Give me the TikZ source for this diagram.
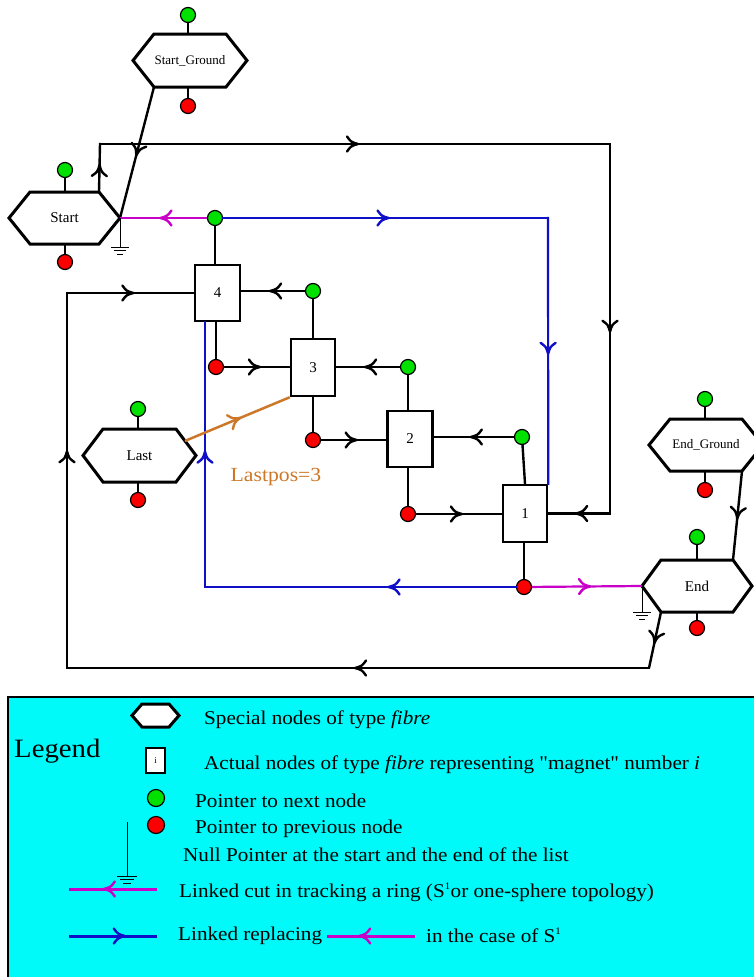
\documentclass[tikz,border=0pt]{standalone}
\usepackage{fontspec}
\setmainfont{Liberation Serif}
\newfontfamily\legfont[FakeStretch=1.085]{Liberation Serif}
\usetikzlibrary{arrows.meta,decorations.markings,calc}

\definecolor{dgreen}{RGB}{0,225,0}
\definecolor{dred}{RGB}{250,0,0}
\definecolor{lblue}{RGB}{15,15,200}
\definecolor{lmag}{RGB}{200,0,200}
\definecolor{lorange}{RGB}{205,120,40}
\definecolor{lcyan}{RGB}{0,250,250}

\tikzset{
  blk/.style={draw=black, line width=2.4pt, line cap=rect},
  blu/.style={draw=lblue, line width=2.2pt, line cap=rect},
  mag/.style={draw=lmag, line width=2.2pt},
  org/.style={draw=lorange, line width=2.5pt},
  thinln/.style={draw=black, line width=1pt},
  hexline/.style={draw=black, line width=3pt, fill=white, line join=miter},
  hexlabel/.style={inner sep=0pt, font=\fontsize{15}{15}\selectfont},
  boxnode/.style={draw=black, line width=2.5pt, fill=white, minimum width=45pt, minimum height=56pt, inner sep=0pt, font=\fontsize{15}{15}\selectfont},
  gdot/.style={circle, draw=black, line width=1.2pt, fill=dgreen, minimum size=15pt, inner sep=0pt},
  rdot/.style={circle, draw=black, line width=1.2pt, fill=dred, minimum size=15pt, inner sep=0pt},
  vtip/.style={line width=2.4pt, line cap=round, line join=round, fill=none},
  midarr/.style={postaction={decorate, decoration={markings, mark=at position #1 with {%
      \draw[vtip] (-8pt,-7.5pt) .. controls (-4pt,-2pt) .. (3pt,0pt) .. controls (-4pt,2pt) .. (-8pt,7.5pt);}}}},
  midarr/.default=0.5,
  leg/.style={anchor=base west, inner sep=0pt, font=\legfont\fontsize{19.5}{19.5}\selectfont},
}

% name, cx, cy, half width, half height, inset, text
\newcommand\hexshape[7]{%
  \draw[hexline] ({#2-#4},#3) coordinate (#1-l) -- ({#2-#4+#6},{#3-#5}) coordinate (#1-tl)
    -- ({#2+#4-#6},{#3-#5}) coordinate (#1-tr) -- ({#2+#4},#3) coordinate (#1-r)
    -- ({#2+#4-#6},{#3+#5}) coordinate (#1-br) -- ({#2-#4+#6},{#3+#5}) coordinate (#1-bl) -- cycle;
  \node[hexlabel] (#1) at (#2,#3) {#7};
}

\begin{document}
\begin{tikzpicture}[x=1pt,y=-1pt]
\useasboundingbox (0,0) rectangle (754,977);
\fill[white] (0,0) rectangle (754,977);

% ---------- special hexagon nodes
\hexshape{SG}{190}{60.5}{57}{26.5}{21}{\fontsize{13}{13}\selectfont Start\_Ground}
\hexshape{S}{64.5}{218}{55.5}{26}{21}{Start}
\hexshape{L}{139.5}{455.5}{56.5}{26.5}{20}{Last}
\hexshape{EG}{706}{445}{57}{26}{21}{\fontsize{13}{13}\selectfont End\_Ground}
\hexshape{E}{697}{586}{55}{26}{19}{End}

% ---------- magnet boxes
\node[boxnode] (B4) at (217.5,293) {4};
\node[boxnode, minimum width=44pt, minimum height=57pt] (B3) at (313,367.5) {3};
\node[boxnode] (B2) at (410,439) {2};
\node[boxnode, minimum width=44pt, minimum height=57pt] (B1) at (525,513.5) {1};

% ---------- pointer dots
\node[gdot] (SGg) at (188,15) {};
\node[rdot] (SGr) at (188,106) {};
\node[gdot] (Sg) at (65,170) {};
\node[rdot] (Sr) at (65,262) {};
\node[gdot] (Lg) at (138,409) {};
\node[rdot] (Lr) at (138,500) {};
\node[gdot] (EGg) at (705,399) {};
\node[rdot] (EGr) at (705,490) {};
\node[gdot] (Eg) at (697,537) {};
\node[rdot] (Er) at (697,628) {};

\node[gdot] (G4) at (215,218) {};
\node[gdot] (G3) at (313,291) {};
\node[gdot] (G2) at (408,367) {};
\node[gdot] (G1) at (522,437) {};
\node[rdot] (R4) at (216,367) {};
\node[rdot] (R3) at (313,440) {};
\node[rdot] (R2) at (408,514) {};
\node[rdot] (R1) at (524,587) {};

% dot stems of special nodes
\draw[blk] (SGg) -- (SGg |- SG-tl);
\draw[blk] (SGr |- SG-bl) -- (SGr);
\draw[blk] (Sg) -- (Sg |- S-tl);
\draw[blk] (Sr |- S-bl) -- (Sr);
\draw[blk] (Lg) -- (Lg |- L-tl);
\draw[blk] (Lr |- L-bl) -- (Lr);
\draw[blk] (EGg) -- (EGg |- EG-tl);
\draw[blk] (EGr |- EG-bl) -- (EGr);
\draw[blk] (Eg) -- (Eg |- E-tl);
\draw[blk] (Er |- E-bl) -- (Er);

% dot stems of magnet boxes
\draw[blk] (G4) -- (G4 |- B4.north);
\draw[blk] (G3) -- (G3 |- B3.north);
\draw[blk] (G2) -- (G2 |- B2.north);
\draw[blk] (G1) -- (B1.north);
\draw[blk] (R4 |- B4.south) -- (R4);
\draw[blk] (R3 |- B3.south) -- (R3);
\draw[blk] (R2 |- B2.south) -- (R2);
\draw[blk] (R1 |- B1.south) -- (R1);

% next / previous links
\draw[blk, midarr] (G3) -- (B4.east |- G3);
\draw[blk, midarr] (R4) -- (B3.west |- R4);
\draw[blk, midarr] (G2) -- (B3.east |- G2);
\draw[blk, midarr] (R3) -- (B2.west |- R3);
\draw[blk, midarr] (G1) -- (B2.east |- G1);
\draw[blk, midarr] (R2) -- (B1.west |- R2);

% Start_Ground -> Start
\draw[blk, line cap=butt, midarr] (SG-bl) -- (S-r);

% outer loop from Start to box 1
\coordinate (c1) at (100,144);
\coordinate (c2) at (610,144);
\coordinate (c3) at (c2 |- B1);
\draw[blk, midarr] (S-tr) -- (c1);
\draw[blk, midarr] (c1) -- (c2);
\draw[blk, midarr] (c2) -- (c3);
\draw[blk, midarr] (c3) -- (B1.east);

% outer loop from End to box 4
\coordinate (d1) at (649,668);
\coordinate (d2) at (67,668);
\coordinate (d3) at (d2 |- B4);
\draw[blk, line cap=butt, midarr] (E-bl) -- (d1);
\draw[blk, midarr] (d1) -- (d2);
\draw[blk, midarr=0.57] (d2) -- (d3);
\draw[blk, midarr] (d3) -- (B4.west);

% End_Ground -> End
\draw[blk, line cap=butt, midarr] (EG-br) -- (E-tr);

% blue replacing links
\coordinate (b1) at (548,218);
\coordinate (b2) at (B1.north east);
\coordinate (b3) at (205,587);
\coordinate (b4) at (b3 |- B4.south);
\draw[blu, midarr] (G4) -- (b1);
\draw[blu, midarr] (b1) -- (b2);
\draw[blu, midarr=0.4] (R1) -- (b3);
\draw[blu, midarr] (b3) -- (b4);

% magenta cut links
\draw[mag, midarr] (G4) -- (S-r);
\draw[mag, midarr] (R1) -- (E-l);

% ground symbols
\draw[thinln] (S-r) -- ++(0,29) coordinate (gs);
\draw[thinln] ($(gs)+(-9,0)$) -- ($(gs)+(9,0)$);
\draw[thinln] ($(gs)+(-6,3.5)$) -- ($(gs)+(6,3.5)$);
\draw[thinln] ($(gs)+(-3,7)$) -- ($(gs)+(3,7)$);
\draw[thinln] (E-l) -- ++(0,26) coordinate (ge);
\draw[thinln] ($(ge)+(-9,0)$) -- ($(ge)+(9,0)$);
\draw[thinln] ($(ge)+(-6,3.5)$) -- ($(ge)+(6,3.5)$);
\draw[thinln] ($(ge)+(-3,7)$) -- ($(ge)+(3,7)$);

% Last pointer
\coordinate (lst) at ($(L-tr)!0.45!(L-r)$);
\draw[org, midarr] (lst) -- (B3.south west);
\node[text=lorange, font=\legfont\fontsize{20}{20}\selectfont, inner sep=0pt] (lpos) at (276,477) {Lastpos=3};

% ---------- legend
\draw[line width=2pt, fill=lcyan] (8,697) rectangle (790,1010);
\hexshape{LH}{155.5}{715.5}{23.5}{11.5}{10}{}
\node[boxnode, minimum width=19pt, minimum height=25pt, line width=2pt, font=\fontsize{9}{9}\selectfont] (Li) at (155.5,760.5) {i};
\node[gdot, minimum size=17pt] (LGg) at (156,798) {};
\node[rdot, minimum size=17pt] (LGr) at (156,825) {};
\node[anchor=base west, inner sep=0pt, font=\legfont\fontsize{26.5}{26.5}\selectfont] (legtitle) at (14,757) {Legend};
\node[leg] (t1) at (204,724) {Special nodes of type \textit{fibre}};
\node[leg] (t2) at (204,769) {Actual nodes of type \textit{fibre} representing "magnet" number \textit{i}};
\node[leg] (t3) at (195,807) {Pointer to next node};
\node[leg] (t4) at (195,833) {Pointer to previous node};
\node[leg] (t5) at (183,861) {Null Pointer at the start and the end of the list};
\node[leg] (t6) at (179,897) {Linked cut in tracking a ring (S\textsuperscript{\fontsize{10}{10}\selectfont 1}or one-sphere topology)};
\node[leg] (t7) at (178,940) {Linked replacing};
\node[leg] (t8) at (426,942) {in the case of S\textsuperscript{\fontsize{10}{10}\selectfont 1}};

\coordinate (gl) at (127,876);
\coordinate (gtop) at (127,822);
\draw[thinln] (gtop) -- (gl);
\draw[thinln] ($(gl)+(-10,0)$) -- ($(gl)+(10,0)$);
\draw[thinln] ($(gl)+(-7,3.5)$) -- ($(gl)+(7,3.5)$);
\draw[thinln] ($(gl)+(-4,7)$) -- ($(gl)+(4,7)$);
\coordinate (m1a) at (69,889);
\coordinate (m1b) at (157,889);
\draw[mag, line width=3pt, midarr=0.57] (m1b) -- (m1a);
\coordinate (bl1) at (69,936);
\coordinate (bl2) at (157,936);
\draw[blu, line width=3pt, line cap=butt, midarr=0.6] (bl1) -- (bl2);
\coordinate (m2a) at (327,936);
\coordinate (m2b) at (415,936);
\draw[mag, line width=3pt, midarr=0.6] (m2b) -- (m2a);
\end{tikzpicture}
\end{document}
